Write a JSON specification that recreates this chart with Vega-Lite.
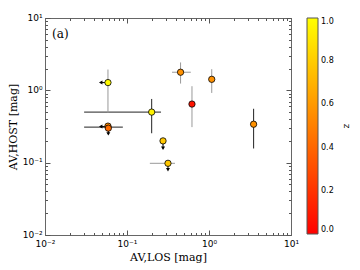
{
  "$schema": "https://vega.github.io/schema/vega-lite/v6.json",
  "width": 246,
  "height": 217,
  "autosize": "none",
  "padding": {"left": 45, "top": 18, "right": 69, "bottom": 35},
  "background": "white",
  "config": {
    "view": {"stroke": "#666", "strokeWidth": 1},
    "axis": {
      "grid": false,
      "labelFont": "DejaVu Sans",
      "labelFontSize": 9,
      "labelColor": "#000",
      "titleFont": "DejaVu Serif",
      "titleFontSize": 11,
      "titleFontWeight": "normal",
      "titleColor": "#000",
      "domainColor": "#666",
      "tickColor": "#555",
      "labelOverlap": false,
      "labelFlush": false
    },
    "legend": {
      "labelFont": "DejaVu Sans",
      "labelFontSize": 8,
      "titleFont": "DejaVu Sans",
      "titleFontSize": 9,
      "titleFontWeight": "normal"
    }
  },
  "datasets": {
    "pts": [
      {"x": 0.0586, "y": 1.28, "z": 0.98},
      {"x": 0.20, "y": 0.50, "z": 0.95},
      {"x": 0.0586, "y": 0.32, "z": 0.55},
      {"x": 0.0592, "y": 0.30, "z": 0.42},
      {"x": 0.275, "y": 0.20, "z": 0.78},
      {"x": 0.316, "y": 0.098, "z": 0.78},
      {"x": 0.45, "y": 1.78, "z": 0.57},
      {"x": 0.62, "y": 0.646, "z": 0.08},
      {"x": 1.08, "y": 1.42, "z": 0.57},
      {"x": 3.5, "y": 0.34, "z": 0.57}
    ],
    "xerr": [
      {"y": 0.50, "xlo": 0.030, "xhi": 0.26, "set": "dark"},
      {"y": 0.31, "xlo": 0.030, "xhi": 0.089, "set": "dark"},
      {"y": 0.098, "xlo": 0.19, "xhi": 0.385, "set": "grey"},
      {"y": 1.78, "xlo": 0.354, "xhi": 0.60, "set": "grey"}
    ],
    "yerr": [
      {"x": 0.0586, "ylo": 0.49, "yhi": 1.94, "set": "grey"},
      {"x": 0.20, "ylo": 0.255, "yhi": 0.76, "set": "dark"},
      {"x": 0.45, "ylo": 1.24, "yhi": 2.43, "set": "grey"},
      {"x": 0.62, "ylo": 0.31, "yhi": 1.14, "set": "grey"},
      {"x": 1.08, "ylo": 0.92, "yhi": 1.96, "set": "grey"},
      {"x": 3.5, "ylo": 0.157, "yhi": 0.556, "set": "dark"}
    ],
    "down": [
      {"x": 0.0592, "y": 0.30, "ytip": 0.25},
      {"x": 0.275, "y": 0.20, "ytip": 0.158},
      {"x": 0.316, "y": 0.098, "ytip": 0.08}
    ],
    "left": [
      {"x": 0.0586, "xtip": 0.0478, "y": 1.28},
      {"x": 0.0586, "xtip": 0.0478, "y": 0.315}
    ],
    "label": [
      {"x": 0.0122, "y": 6.0, "t": "(a)"}
    ]
  },
  "resolve": {"axis": {"x": "independent", "y": "independent"}},
  "layer": [
    {
      "data": {"name": "xerr"},
      "mark": {"type": "rule", "strokeWidth": 1},
      "encoding": {
        "x": {"field": "xlo", "type": "quantitative",
          "scale": {"type": "log", "domain": [0.01, 10]},
          "axis": {"orient": "bottom", "values": [0.01, 0.1, 1, 10], "tickSize": -5, "labelPadding": 9,
            "labelExpr": "'10' + (datum.value < 0.05 ? '⁻²' : datum.value < 0.5 ? '⁻¹' : datum.value < 5 ? '⁰' : '¹')",
            "title": "AV,LOS [mag]", "titlePadding": 3}},
        "x2": {"field": "xhi"},
        "y": {"field": "y", "type": "quantitative",
          "scale": {"type": "log", "domain": [0.01, 10]},
          "axis": {"orient": "left", "values": [0.01, 0.1, 1, 10], "tickSize": -5, "labelPadding": 8, "labelOffset": -1,
            "labelExpr": "'10' + (datum.value < 0.05 ? '⁻²' : datum.value < 0.5 ? '⁻¹' : datum.value < 5 ? '⁰' : '¹')",
            "title": "AV,HOST [mag]", "titlePadding": 4}},
        "stroke": {"field": "set", "type": "nominal",
          "scale": {"domain": ["dark", "grey"], "range": ["#222222", "#999999"]}, "legend": null}
      }
    },
    {
      "data": {"name": "yerr"},
      "mark": {"type": "rule", "strokeWidth": 1},
      "encoding": {
        "x": {"field": "x", "type": "quantitative",
          "scale": {"type": "log", "domain": [0.01, 10]},
          "axis": {"orient": "bottom", "values": [0.02,0.03,0.04,0.05,0.06,0.07,0.08,0.09,0.2,0.3,0.4,0.5,0.6,0.7,0.8,0.9,2,3,4,5,6,7,8,9],
            "tickSize": -2.5, "labels": false, "domain": false, "title": null}},
        "y": {"field": "ylo", "type": "quantitative",
          "scale": {"type": "log", "domain": [0.01, 10]},
          "axis": {"orient": "left", "values": [0.02,0.03,0.04,0.05,0.06,0.07,0.08,0.09,0.2,0.3,0.4,0.5,0.6,0.7,0.8,0.9,2,3,4,5,6,7,8,9],
            "tickSize": -2.5, "labels": false, "domain": false, "title": null}},
        "y2": {"field": "yhi"},
        "stroke": {"field": "set", "type": "nominal",
          "scale": {"domain": ["dark", "grey"], "range": ["#222222", "#999999"]}, "legend": null}
      }
    },
    {
      "data": {"name": "down"},
      "mark": {"type": "rule", "strokeWidth": 1, "color": "#000"},
      "encoding": {
        "x": {"field": "x", "type": "quantitative",
          "scale": {"type": "log", "domain": [0.01, 10]},
          "axis": {"orient": "top", "values": [0.01, 0.1, 1, 10], "tickSize": -5, "labels": false, "title": null}},
        "y": {"field": "y", "type": "quantitative",
          "scale": {"type": "log", "domain": [0.01, 10]},
          "axis": {"orient": "right", "values": [0.01, 0.1, 1, 10], "tickSize": -5, "labels": false, "title": null}},
        "y2": {"field": "ytip"}
      }
    },
    {
      "data": {"name": "left"},
      "mark": {"type": "rule", "strokeWidth": 1, "color": "#000"},
      "encoding": {
        "x": {"field": "x", "type": "quantitative",
          "scale": {"type": "log", "domain": [0.01, 10]},
          "axis": {"orient": "top", "values": [0.02,0.03,0.04,0.05,0.06,0.07,0.08,0.09,0.2,0.3,0.4,0.5,0.6,0.7,0.8,0.9,2,3,4,5,6,7,8,9],
            "tickSize": -2.5, "labels": false, "domain": false, "title": null}},
        "x2": {"field": "xtip"},
        "y": {"field": "y", "type": "quantitative",
          "scale": {"type": "log", "domain": [0.01, 10]},
          "axis": {"orient": "right", "values": [0.02,0.03,0.04,0.05,0.06,0.07,0.08,0.09,0.2,0.3,0.4,0.5,0.6,0.7,0.8,0.9,2,3,4,5,6,7,8,9],
            "tickSize": -2.5, "labels": false, "domain": false, "title": null}}
      }
    },
    {
      "data": {"name": "down"},
      "mark": {"type": "point", "shape": "triangle-down", "filled": true, "size": 16, "color": "#000", "opacity": 1},
      "encoding": {
        "x": {"field": "x", "type": "quantitative", "scale": {"type": "log", "domain": [0.01, 10]}, "axis": null},
        "y": {"field": "ytip", "type": "quantitative", "scale": {"type": "log", "domain": [0.01, 10]}, "axis": null}
      }
    },
    {
      "data": {"name": "left"},
      "mark": {"type": "point", "shape": "triangle-left", "filled": true, "size": 16, "color": "#000", "opacity": 1},
      "encoding": {
        "x": {"field": "xtip", "type": "quantitative", "scale": {"type": "log", "domain": [0.01, 10]}, "axis": null},
        "y": {"field": "y", "type": "quantitative", "scale": {"type": "log", "domain": [0.01, 10]}, "axis": null}
      }
    },
    {
      "data": {"name": "pts"},
      "mark": {"type": "point", "shape": "circle", "filled": true, "size": 40, "stroke": "#000", "strokeWidth": 0.8, "opacity": 1},
      "encoding": {
        "x": {"field": "x", "type": "quantitative", "scale": {"type": "log", "domain": [0.01, 10]}, "axis": null},
        "y": {"field": "y", "type": "quantitative", "scale": {"type": "log", "domain": [0.01, 10]}, "axis": null},
        "fill": {"field": "z", "type": "quantitative",
          "scale": {"domain": [0, 1], "range": ["#ff0000", "#ffff00"], "interpolate": "rgb"},
          "legend": {"orient": "right", "offset": 15, "padding": 0, "direction": "vertical",
            "gradientLength": 216, "gradientThickness": 11,
            "gradientStrokeColor": "#555", "gradientStrokeWidth": 1,
            "values": [0, 0.2, 0.4, 0.6, 0.8, 1.0], "format": ".1f", "labelOffset": 3,
            "title": "z", "titleOrient": "right", "titlePadding": 8}}
      }
    },
    {
      "data": {"name": "label"},
      "mark": {"type": "text", "font": "DejaVu Serif", "fontSize": 12, "align": "left", "baseline": "middle", "color": "#000"},
      "encoding": {
        "x": {"field": "x", "type": "quantitative", "scale": {"type": "log", "domain": [0.01, 10]}, "axis": null},
        "y": {"field": "y", "type": "quantitative", "scale": {"type": "log", "domain": [0.01, 10]}, "axis": null},
        "text": {"field": "t"}
      }
    }
  ]
}
